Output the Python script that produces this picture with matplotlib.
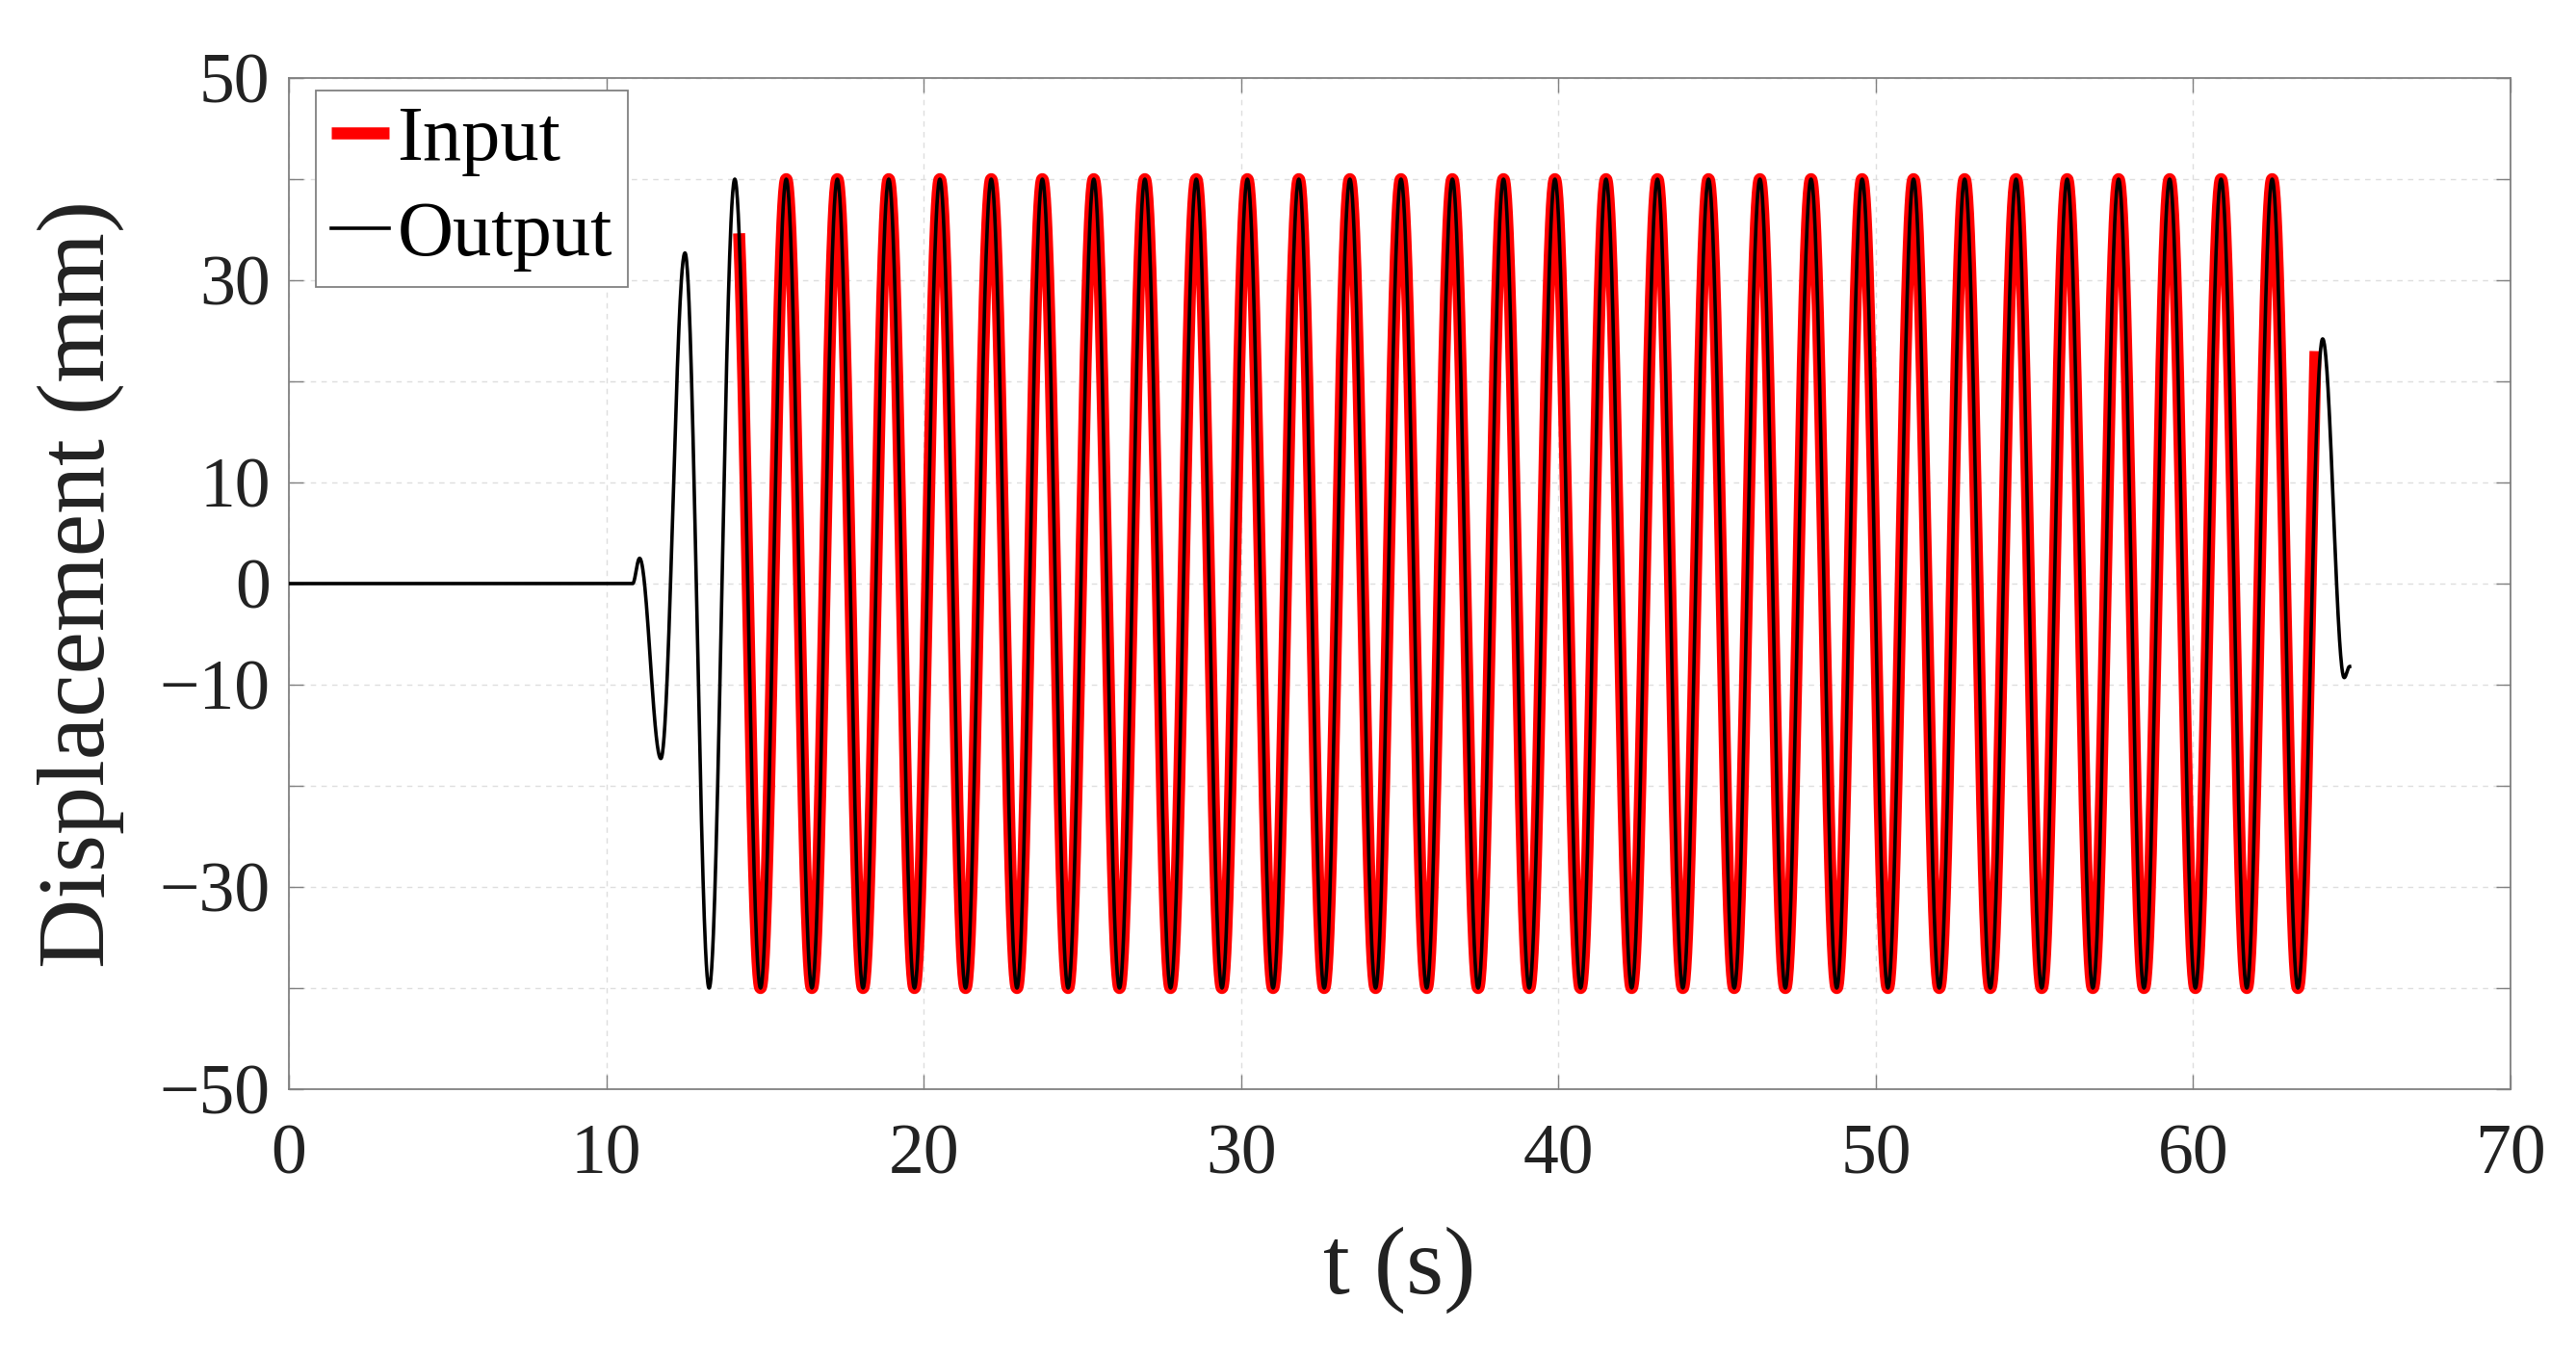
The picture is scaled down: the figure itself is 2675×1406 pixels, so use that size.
import numpy as np
import matplotlib
matplotlib.use("Agg")
import matplotlib.pyplot as plt
from matplotlib.ticker import FixedLocator, FixedFormatter

# ---------------- data ----------------
# Input: sinusoid of amplitude 40 mm, extrema times (s)
input_peak_t = [14.05, 15.67, 17.28, 18.90, 20.51, 22.13, 23.74, 25.36, 26.97,
                28.59, 30.20, 31.82, 33.43, 35.04, 36.66, 38.27, 39.89, 41.50,
                43.12, 44.73, 46.35, 47.96, 49.57, 51.19, 52.80, 54.42, 56.03,
                57.65, 59.26, 60.88, 62.49, 64.10]
input_trough_t = [14.86, 16.48, 18.09, 19.71, 21.32, 22.94, 24.55, 26.17, 27.78,
                  29.40, 31.01, 32.62, 34.24, 35.85, 37.47, 39.08, 40.70, 42.31,
                  43.92, 45.54, 47.15, 48.77, 50.38, 52.00, 53.61, 55.23, 56.84,
                  58.45, 60.07, 61.69, 63.30]
input_peak_v = 40.0
input_trough_v = -40.0
input_start, input_end = 14.18, 63.86

# Output: rest, start-up transient and run-out (times s, values mm)
output_rest_t = [0.0, 10.83]
output_rest_v = [0.0, 0.0]
output_start_t = [10.83, 11.05, 11.72, 12.48, 13.24]
output_start_v = [0.0, 2.5, -17.3, 32.7, -40.0]
output_end_t = [64.08, 64.76, 64.93]
output_end_v = [24.2, -9.3, -8.2]

x_ticks = [0, 10, 20, 30, 40, 50, 60, 70]
y_ticks = [-50, -40, -30, -20, -10, 0, 10, 20, 30, 40, 50]
y_tick_labels = ["\u221250", "", "\u221230", "", "\u221210", "0", "10", "", "30", "", "50"]


def smooth_through(ts, vs, n=60):
    """Half-cosine joins between consecutive extrema."""
    out_t, out_v = [], []
    for i in range(len(ts) - 1):
        s = np.linspace(0, 1, n, endpoint=(i == len(ts) - 2))
        out_t.append(ts[i] + (ts[i + 1] - ts[i]) * s)
        out_v.append(vs[i] + (vs[i + 1] - vs[i]) * (1 - np.cos(np.pi * s)) / 2)
    return np.concatenate(out_t), np.concatenate(out_v)


ext = sorted([(t, input_peak_v) for t in input_peak_t] +
             [(t, input_trough_v) for t in input_trough_t])
in_t, in_v = smooth_through([e[0] for e in ext], [e[1] for e in ext])
mask = (in_t >= input_start) & (in_t <= input_end)
in_t, in_v = in_t[mask], in_v[mask]

steady = [e for e in ext if 14.0 <= e[0] <= 63.5]
o_ts = output_start_t + [e[0] for e in steady] + output_end_t
o_vs = output_start_v + [e[1] for e in steady] + output_end_v
o_t, o_v = smooth_through(o_ts, o_vs)
out_t = np.concatenate([output_rest_t, o_t])
out_v = np.concatenate([output_rest_v, o_v])

# ---------------- figure ----------------
plt.rcParams['font.family'] = ['Liberation Serif', 'DejaVu Serif']

W, H = 2675, 1406
fig = plt.figure(figsize=(W / 100, H / 100), dpi=100)
ax = fig.add_axes([300 / W, 1 - 1131 / H, (2607 - 300) / W, (1131 - 81) / H])

text_col = '#222222'
axis_col = '#808080'

ax.plot(in_t, in_v, color='#ff0000', lw=9, solid_capstyle='butt',
        solid_joinstyle='round', label='Input', zorder=3)
ax.plot(out_t, out_v, color='black', lw=2.6, label='Output', zorder=4)

ax.set_xlim(0, 70)
ax.set_ylim(-50, 50)
ax.xaxis.set_major_locator(FixedLocator(x_ticks))
ax.yaxis.set_major_locator(FixedLocator(y_ticks))
ax.yaxis.set_major_formatter(FixedFormatter(y_tick_labels))

ax.grid(True, color='#dedede', lw=1.0, ls=(0, (4, 4)))
ax.set_axisbelow(True)

for sp in ax.spines.values():
    sp.set_color(axis_col)
    sp.set_linewidth(1.3)

ax.tick_params(axis='both', direction='in', length=11, width=1.0,
               color=axis_col, top=True, right=True, labelsize=53,
               labelcolor=text_col)
ax.tick_params(axis='y', pad=14)
ax.tick_params(axis='x', pad=26)

ax.set_xlabel('t (s)', fontsize=72, color=text_col, labelpad=28)
ax.set_ylabel('Displacement (mm)', fontsize=72, color=text_col, labelpad=26)

leg = ax.legend(loc='upper left', bbox_to_anchor=(0.012, 0.988), fontsize=58,
                handlelength=0.75, handletextpad=0.1, borderpad=0.2,
                labelspacing=0.32, borderaxespad=0.0, fancybox=False,
                framealpha=1.0, edgecolor=axis_col)
leg.get_frame().set_linewidth(1.3)
leg.get_lines()[0].set_linewidth(9)
for t in leg.get_texts():
    t.set_color('black')

fig.savefig('out.png', dpi=100)
